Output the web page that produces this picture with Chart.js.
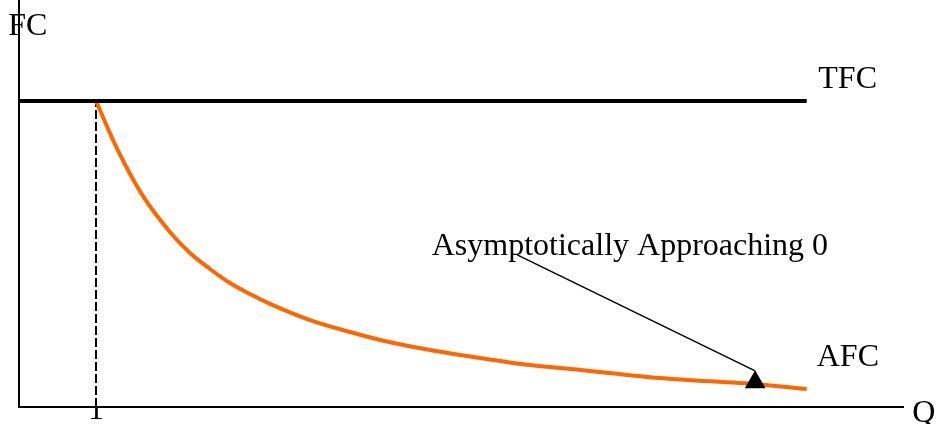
<!DOCTYPE html>
<html>
  <head>
    <title>AFC</title>
    <script src="https://cdn.jsdelivr.net/npm/chart.js"></script>
    <style>
      body { margin: 0; background: #fff; overflow: hidden; }
    </style>
  </head>

  <body>
    <canvas id="custoFixo" width="937" height="424"></canvas>

    <script>
      // valores
      var quantidade = [1, 1.27, 1.6, 1.96, 2.22, 2.48, 2.74, 3.0, 3.26, 3.78, 4.3, 4.69, 5.34, 5.99, 6.64, 7.29, 8.32, 9.62, 10.23];
      var custoMedio = [100, 84.6, 69.3, 57.2, 50.3, 45.1, 40.5, 36.9, 33.7, 28.4, 24.5, 21.9, 18.6, 16.0, 13.7, 12.1, 9.5, 7.35, 5.9];
      var tfcQ = [0, 10.23];
      var tfcValor = [100, 100];
      var setaQ = [6.47, 9.56];
      var setaValor = [49.7, 11.8];
      var xTicks = [1];

      var serif = '"Liberation Serif", "Times New Roman", serif';

      // textos da figura (posicao em unidades do grafico)
      var textos = [
        { texto: "FC", q: -0.14, v: 121.6 },
        { texto: "TFC", q: 10.38, v: 104.2 },
        { texto: "AFC", q: 10.36, v: 13.4 },
        { texto: "Asymptotically Approaching 0", q: 5.36, v: 49.7 },
        { texto: "Q", q: 11.6, v: -4.9 },
      ];

      function pares(xs, ys) {
        return xs.map((x, i) => ({ x: x, y: ys[i] }));
      }

      var pluginTextos = {
        id: "textos",
        afterDraw(chart) {
          var ctx = chart.ctx;
          var sx = chart.scales.x;
          var sy = chart.scales.y;
          ctx.save();
          ctx.fillStyle = "#000";
          ctx.font = "32px " + serif;
          ctx.textAlign = "left";
          ctx.textBaseline = "alphabetic";
          textos.forEach((t) => {
            ctx.fillText(t.texto, sx.getPixelForValue(t.q), sy.getPixelForValue(t.v));
          });
          ctx.restore();
        },
      };

      var grafico = new Chart(document.getElementById("custoFixo").getContext("2d"), {
        type: "scatter",
        data: {
          datasets: [
            {
              label: "ponta",
              data: [{ x: 9.56, y: 8.1 }],
              pointStyle: "triangle",
              pointRadius: 12,
              backgroundColor: "#000",
              borderColor: "#000",
              borderWidth: 0,
              order: 0,
            },
            {
              label: "seta",
              data: pares(setaQ, setaValor),
              showLine: true,
              borderColor: "#000",
              borderWidth: 1.5,
              pointRadius: 0,
              order: 1,
            },
            {
              label: "TFC",
              data: pares(tfcQ, tfcValor),
              showLine: true,
              borderColor: "#000",
              borderWidth: 4,
              pointRadius: 0,
              order: 2,
            },
            {
              label: "AFC",
              data: pares(quantidade, custoMedio),
              showLine: true,
              borderColor: "#ff6600",
              borderWidth: 4,
              pointRadius: 0,
              cubicInterpolationMode: "monotone",
              order: 3,
            },
            {
              label: "Q=1",
              data: pares([1, 1], [0, 100]),
              showLine: true,
              borderColor: "#000",
              borderWidth: 2,
              borderDash: [9, 3],
              pointRadius: 0,
              order: 4,
            },
          ],
        },
        options: {
          responsive: false,
          animation: false,
          devicePixelRatio: 1,
          layout: { autoPadding: false, padding: { top: 0, left: 0, right: 34, bottom: 0 } },
          scales: {
            x: {
              type: "linear",
              min: 0,
              max: 11.48,
              grid: { display: false, drawTicks: false },
              border: { color: "#000", width: 2 },
              afterBuildTicks(scale) {
                scale.ticks = xTicks.map((v) => ({ value: v }));
              },
              afterFit(scale) {
                scale.height = 17;
              },
              ticks: {
                color: "#000",
                padding: -16,
                maxRotation: 0,
                font: { family: serif, size: 32 },
              },
            },
            y: {
              min: 0,
              max: 133,
              grid: { display: false, drawTicks: false },
              border: { color: "#000", width: 2 },
              ticks: { display: false },
              afterFit(scale) {
                scale.width = 19;
              },
            },
          },
          plugins: {
            legend: { display: false },
            tooltip: { enabled: false },
          },
        },
        plugins: [pluginTextos],
      });
    </script>
  </body>
</html>
